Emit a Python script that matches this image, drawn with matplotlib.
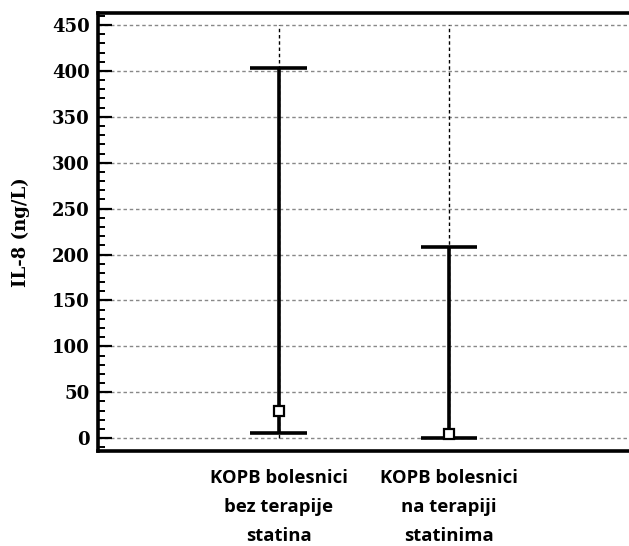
import matplotlib
matplotlib.use("Agg")
import matplotlib.pyplot as plt
import numpy as np
from matplotlib.ticker import MultipleLocator

categories = ["KOPB bolesnici\nbez terapije\nstatina", "KOPB bolesnici\nna terapiji\nstatinima"]
maxima = [403, 208]
minima = [6, 0]
medians = [30, 4]
yticks = [0, 50, 100, 150, 200, 250, 300, 350, 400, 450]

fig = plt.figure(figsize=(6.29, 5.46), dpi=100)
ax = fig.add_axes([0.1558, 0.174, 0.8442 + 0.01, 0.802])

x = np.arange(1, len(categories) + 1)

for yv in yticks:
    ax.axhline(yv, color="#888888", lw=1.0, ls=(0, (2.5, 2)), zorder=1)
ax.vlines(x, 0, 450, color="black", lw=1.0, ls=(0, (2.5, 2)), zorder=1)

ax.vlines(x, minima, maxima, color="black", lw=2.6, zorder=3)
capw = 0.165
ax.hlines(maxima, x - capw, x + capw, color="black", lw=2.6, zorder=3)
ax.hlines(minima, x - capw, x + capw, color="black", lw=2.6, zorder=3)
ax.plot(x, medians, ls="none", marker="s", ms=6.5, mfc="white", mec="black", mew=1.6, zorder=4)

ax.set_xlim(-0.058, 3.09)
ax.set_ylim(-14, 463)
ax.set_xticks(x)
ax.set_xticklabels(categories, family="Open Sans", fontweight="bold", fontsize=13.3, linespacing=1.8)
ax.tick_params(axis="x", length=0, pad=13)

ax.set_yticks(yticks)
ax.yaxis.set_minor_locator(MultipleLocator(10))
ax.tick_params(axis="y", which="major", direction="in", length=10, width=1.6, pad=6)
ax.tick_params(axis="y", which="minor", direction="in", length=5, width=1.4)
for lab in ax.get_yticklabels():
    lab.set_family("DejaVu Serif")
    lab.set_fontweight("bold")
    lab.set_fontsize(13)

ax.set_ylabel("IL-8 (ng/L)", family="DejaVu Serif", fontweight="bold", fontsize=13, labelpad=16)

for side in ["left", "bottom", "top"]:
    ax.spines[side].set_linewidth(2.6)
ax.spines["right"].set_visible(False)

fig.savefig("out.png", dpi=100)
